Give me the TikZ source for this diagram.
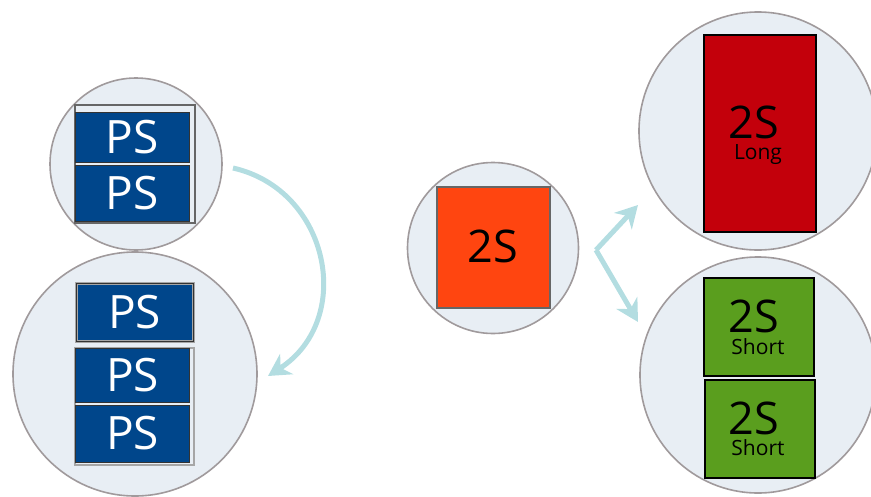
\documentclass[tikz,border=0pt]{standalone}
\usepackage{fontspec}
\setmainfont{Open Sans}
\usetikzlibrary{arrows.meta}
\definecolor{circfill}{HTML}{E8EEF4}
\definecolor{circdraw}{HTML}{A09A9C}
\definecolor{psblue}{HTML}{00468B}
\definecolor{orng}{HTML}{FF4510}
\definecolor{redbox}{HTML}{C3000B}
\definecolor{grnbox}{HTML}{5A9E1E}
\definecolor{arrowc}{HTML}{B3DDE1}
\tikzset{
  bubble/.style={circle, fill=circfill, draw=circdraw, line width=1.6pt, inner sep=0pt},
  psbox/.style={rectangle, fill=psblue, draw=black!80, line width=1pt, inner sep=0pt, text=white,
     font=\fontsize{46}{46}\selectfont},
  frame/.style={rectangle, draw=gray!70, line width=1.2pt, inner sep=0pt},
  sbox/.style={rectangle, draw=black, line width=1.2pt, inner sep=0pt},
  big/.style={font=\fontsize{45}{45}\selectfont, text=black, inner sep=0pt, text height=32pt, text depth=0pt},
  small/.style={font=\fontsize{21}{21}\selectfont, text=black, inner sep=0pt, text height=15pt, text depth=0pt},
  flow/.style={draw=arrowc, line width=5pt, -{Stealth[length=22pt,width=24pt,inset=7pt]}}
}
\begin{document}
\begin{tikzpicture}[x=1pt,y=-1pt]
\useasboundingbox (0,0) rectangle (871,496);
% bubbles
\node[bubble, minimum size=172pt] (c1) at (136,164) {};
\node[bubble, minimum size=244pt] (c2) at (135,374) {};
\node[bubble, minimum size=171pt] (c3) at (493,248) {};
\node[bubble, minimum size=238pt] (c4) at (758,131) {};
\node[bubble, minimum size=236pt] (c5) at (758,375) {};
% top-left PS stack
\node[frame, draw=gray!80!black, minimum width=120pt, minimum height=118pt] (f1) at (135,164) {};
\node[psbox, minimum width=114pt, minimum height=50pt] (p1) at (132,137) {PS};
\node[psbox, minimum width=114pt, minimum height=56pt] (p2) at (132,193.5) {PS};
% bottom-left PS stack
\node[psbox, minimum width=117pt, minimum height=58pt, draw=gray!70, double=black!80, double distance=1pt] (p3) at (134.5,312.5) {PS};
\node[frame, minimum width=119pt, minimum height=117pt] (f2) at (134.5,406.5) {};
\node[psbox, minimum width=114pt, minimum height=54pt] (p4) at (132.5,375) {PS};
\node[psbox, minimum width=114pt, minimum height=57pt] (p5) at (132.5,433.5) {PS};
% middle 2S
\node[sbox, fill=orng, minimum width=113pt, minimum height=121pt, draw=gray!80!black] (o1) at (493.5,247.5) {};
\node[big] (o1t) at (493,246.5) {2S};
% top-right long
\node[sbox, fill=redbox, minimum width=112pt, minimum height=197pt] (r1) at (760,133.5) {};
\node[big] (r1t) at (754,122.5) {2S};
\node[small] (r1s) at (758,152) {Long};
% bottom-right shorts
\node[sbox, fill=grnbox, minimum width=110pt, minimum height=98pt] (g1) at (759,327) {};
\node[big] (g1t) at (754,316.5) {2S};
\node[small] (g1s) at (758,346.5) {Short};
\node[sbox, fill=grnbox, minimum width=110pt, minimum height=98pt] (g2) at (760,429) {};
\node[big] (g2t) at (754,418) {2S};
\node[small] (g2s) at (758,447.5) {Short};
% arrows
\coordinate (a0) at (233,168);
\coordinate (a1) at (268,376);
\draw[flow] (a0) .. controls (330,190) and (355,320) .. (a1);
\coordinate (b0) at (596,250);
\coordinate (b1) at (638,205);
\coordinate (b2) at (638,322);
\draw[flow] (b0) -- (b1);
\draw[flow] (b0) -- (b2);
\end{tikzpicture}
\end{document}
